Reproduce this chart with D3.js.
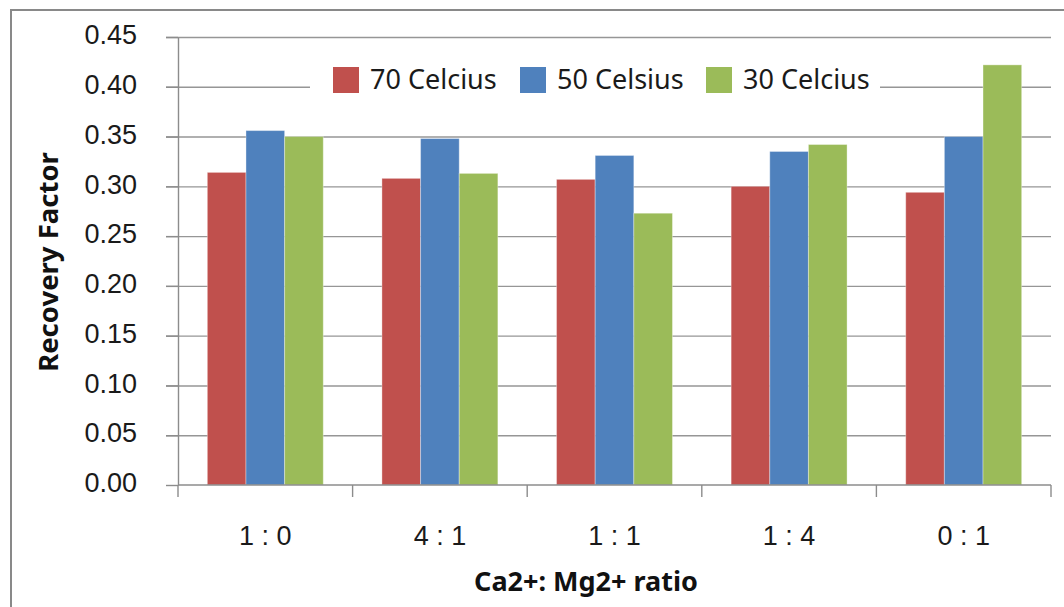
<!DOCTYPE html>
<html>
<head>
<meta charset="utf-8">
<script src="https://cdn.jsdelivr.net/npm/d3@7"></script>
<style>
  body { margin: 0; background: #ffffff; }
  svg { display: block; font-family: "Noto Sans", "DejaVu Sans", sans-serif; }
</style>
</head>
<body>
<svg id="chart" width="1064" height="607"></svg>
<script>
// ---------------- data ----------------
const categories = ["1 : 0", "4 : 1", "1 : 1", "1 : 4", "0 : 1"];
const seriesNames = ["70 Celcius", "50 Celsius", "30 Celcius"];
const temp70 = [0.314, 0.308, 0.307, 0.300, 0.294];
const temp50 = [0.356, 0.348, 0.331, 0.335, 0.350];
const temp30 = [0.350, 0.313, 0.273, 0.342, 0.422];
const yTicks = [0, 0.05, 0.10, 0.15, 0.20, 0.25, 0.30, 0.35, 0.40, 0.45];
const colors = ["#C0504D", "#4F81BD", "#9BBB59"];

const svg = d3.select("#chart"),
    plotLeft = 178,
    plotRight = 1051,
    plotTop = 37,
    plotBottom = 485;

const seriesValues = [temp70, temp50, temp30];
const chartData = categories.map((c, i) => {
    const row = { cat: c };
    seriesNames.forEach((s, j) => { row[s] = seriesValues[j][i]; });
    return row;
});

// outer frame
svg.append("rect")
    .attr("x", 11).attr("y", 10)
    .attr("width", 1070).attr("height", 620)
    .attr("fill", "none")
    .attr("stroke", "#898989")
    .attr("stroke-width", 2);

// Scales
const x0 = d3.scaleBand()
    .domain(categories)
    .range([plotLeft, plotRight])
    .padding(0);

const bw = x0.bandwidth();
const x1 = d3.scaleBand()
    .domain(seriesNames)
    .range([bw * 0.168, bw * 0.832])
    .padding(0);

const y = d3.scaleLinear()
    .domain([0, 0.45])
    .range([plotBottom, plotTop]);

const color = d3.scaleOrdinal().domain(seriesNames).range(colors);

// gridlines
svg.append("g")
    .attr("transform", `translate(${plotRight},0)`)
    .call(d3.axisLeft(y).tickValues(yTicks.slice(1)).tickSize(plotRight - plotLeft + 12).tickFormat(""))
    .call(g => g.select(".domain").remove())
    .call(g => g.selectAll("line").attr("stroke", "#969696").attr("stroke-width", 1.4));

// y axis
svg.append("g")
    .attr("transform", `translate(${plotLeft},0)`)
    .call(d3.axisLeft(y).tickValues(yTicks).tickSize(12).tickPadding(29).tickSizeOuter(0)
        .tickFormat(d3.format(".2f")))
    .call(g => g.select(".domain").attr("stroke", "#8c8c8c").attr("stroke-width", 1.4))
    .call(g => g.selectAll("line").attr("stroke", "#8c8c8c").attr("stroke-width", 1.4))
    .call(g => g.selectAll("text")
        .attr("dy", "0.25em")
        .style("font-size", "27px")
        .style("fill", "#1a1a1a"));

// legend background (hides the gridline behind it)
const legend = svg.append("g");
legend.append("rect")
    .attr("x", 310).attr("y", 62)
    .attr("width", 570).attr("height", 36)
    .attr("fill", "#ffffff");

const legendX = [333, 520, 706];
seriesNames.forEach((s, i) => {
    const g = legend.append("g").attr("transform", `translate(${legendX[i]},67)`);
    g.append("rect")
        .attr("width", 26).attr("height", 26)
        .attr("fill", color(s));
    g.append("text")
        .attr("x", 37).attr("y", 22)
        .style("font-size", "27px")
        .style("fill", "#1a1a1a")
        .text(s);
});

// bars
const groups = svg.append("g")
    .selectAll("g")
    .data(chartData)
    .join("g")
    .attr("transform", d => `translate(${x0(d.cat)},0)`);

groups.selectAll("rect")
    .data(d => seriesNames.map(key => ({ key, value: d[key] })))
    .join("rect")
    .attr("x", d => x1(d.key))
    .attr("y", d => y(d.value))
    .attr("width", x1.bandwidth())
    .attr("height", d => y(0) - y(d.value))
    .attr("fill", d => color(d.key))
    .attr("stroke", "#ffffff")
    .attr("stroke-opacity", 0.35)
    .attr("stroke-width", 1);

// x axis: line, boundary ticks, centred labels
const xAxis = svg.append("g");
xAxis.append("line")
    .attr("x1", plotLeft).attr("x2", plotRight)
    .attr("y1", plotBottom).attr("y2", plotBottom)
    .attr("stroke", "#8c8c8c").attr("stroke-width", 1.4);

const bounds = categories.map(c => x0(c)).concat([x0.range()[1]]);
xAxis.selectAll("line.tick")
    .data(bounds)
    .join("line")
    .attr("class", "tick")
    .attr("x1", d => d).attr("x2", d => d)
    .attr("y1", plotBottom).attr("y2", plotBottom + 12)
    .attr("stroke", "#8c8c8c").attr("stroke-width", 1.4);

svg.append("g")
    .attr("transform", `translate(0,${plotBottom})`)
    .call(d3.axisBottom(x0).tickSize(0).tickPadding(41))
    .call(g => g.select(".domain").remove())
    .call(g => g.selectAll("text")
        .style("font-size", "27px")
        .style("fill", "#1a1a1a"));

// axis titles
svg.append("text")
    .attr("x", 586)
    .attr("y", 591)
    .attr("text-anchor", "middle")
    .style("font-size", "27px")
    .style("font-weight", "bold")
    .style("fill", "#111111")
    .text("Ca2+: Mg2+ ratio");

svg.append("text")
    .attr("transform", "translate(58,262) rotate(-90)")
    .attr("text-anchor", "middle")
    .style("font-size", "27.5px")
    .style("font-weight", "bold")
    .style("fill", "#111111")
    .text("Recovery Factor");
</script>
</body>
</html>
